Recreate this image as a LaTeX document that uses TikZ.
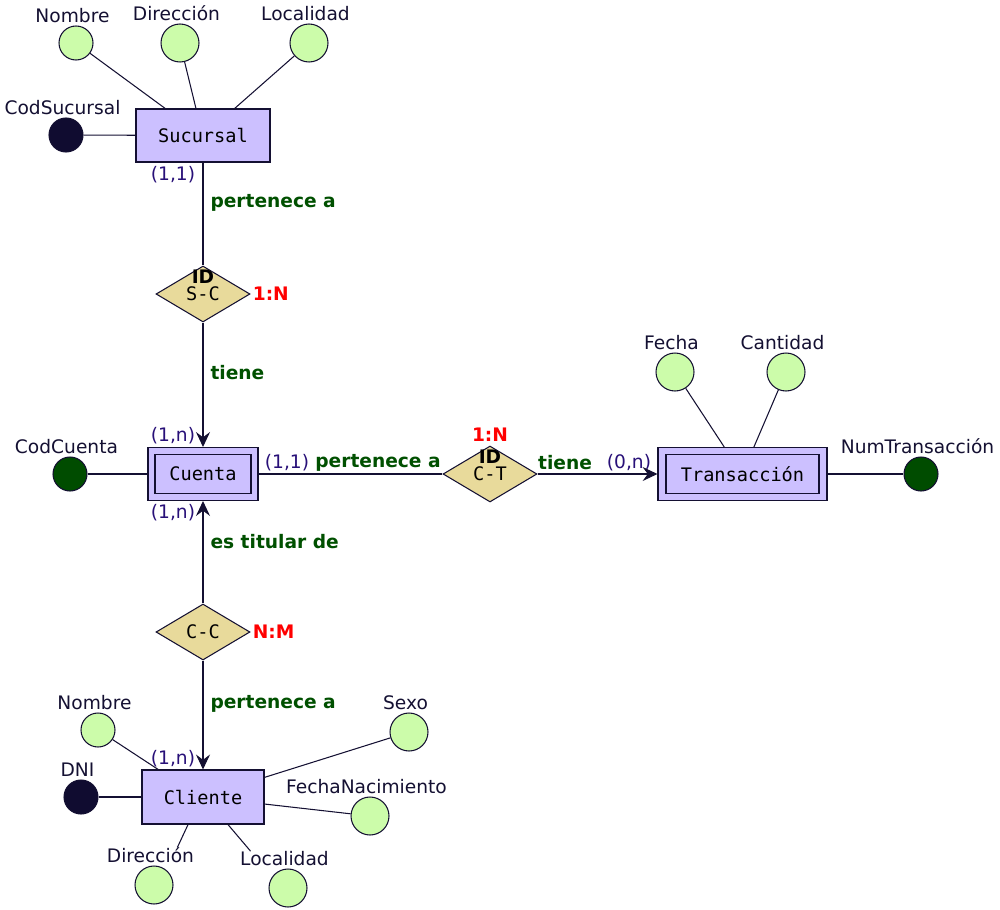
\documentclass[tikz,border=0pt]{standalone}
\usepackage{fontspec}
\setmainfont{DejaVu Sans}
\setmonofont{DejaVu Sans Mono}
\usepackage{tikz}
\usetikzlibrary{positioning,shapes.geometric,arrows.meta}
\definecolor{edgec}{RGB}{20,16,50}
\definecolor{entc}{RGB}{204,192,255}
\definecolor{relc}{RGB}{232,218,155}
\definecolor{attrc}{RGB}{204,252,170}
\definecolor{keyblk}{RGB}{16,12,48}
\definecolor{keygrn}{RGB}{0,76,0}
\definecolor{cardc}{RGB}{40,16,120}
\definecolor{relname}{RGB}{0,80,0}
\definecolor{ratc}{RGB}{255,0,0}

\begin{document}
\begin{tikzpicture}[x=0.02cm, y=-0.02cm, line width=0.6pt,
  every node/.style={font=\fontsize{10.6}{12}\selectfont, inner sep=0pt},
  ent/.style={draw=edgec, fill=entc, rectangle, font=\fontsize{10.6}{12}\selectfont\ttfamily},
  rel/.style={draw=edgec, fill=relc, diamond, aspect=1.68, minimum width=1.88cm, minimum height=1.12cm, font=\fontsize{10.6}{12}\selectfont\ttfamily},
  attr/.style={draw=edgec, fill=attrc, circle, minimum size=0.76cm},
  sattr/.style={draw=edgec, fill=attrc, circle, minimum size=0.68cm},
  kblk/.style={draw=edgec, fill=keyblk, circle, minimum size=0.68cm},
  kgrn/.style={draw=edgec, fill=keygrn, circle, minimum size=0.68cm},
  lab/.style={text=edgec, anchor=base},
  card/.style={text=cardc},
  rname/.style={text=relname, font=\fontsize{10.6}{12}\selectfont\bfseries},
  ratio/.style={text=ratc, font=\fontsize{10.6}{12}\selectfont\bfseries},
  idlab/.style={font=\fontsize{10.6}{12}\selectfont\bfseries},
  conn/.style={draw=edgec},
  arr/.style={draw=edgec, ->, >={Stealth[length=8.5pt,width=8pt,inset=3pt]}}]
\useasboundingbox (0,0) rectangle (1000,909);

% Sucursal
\node[ent, minimum width=2.68cm, minimum height=1.06cm] (suc) at (203,135.5) {Sucursal};
\node[sattr] (nomS) at (76,43) {};
\node[attr] (dirS) at (180,43) {};
\node[attr] (locS) at (309,43) {};
\node[kblk] (codS) at (66,135) {};
\node[lab] (nomSl) at ([shift={(-2pt,1.5pt)}]nomS.north) {Nombre};
\node[lab] (dirSl) at ([shift={(-2pt,1.5pt)}]dirS.north) {Dirección};
\node[lab] (locSl) at ([shift={(-2pt,1.5pt)}]locS.north) {Localidad};
\node[lab] (codSl) at ([shift={(-2pt,1.5pt)}]codS.north) {CodSucursal};
\draw[conn] (nomS) -- ([xshift=-21.5pt]suc.north);
\draw[conn] (dirS) -- ([xshift=-4pt]suc.north);
\draw[conn] (locS) -- ([xshift=18pt]suc.north);
\draw[conn] (codS) -- (suc);

% S-C
\node[rel] (sc) at (203,294) {S-C};
\node[idlab] (idSC) at ([yshift=9.6pt]sc.center) {ID};
\node[ratio, right=1pt of sc] (ratSC) {1:N};
\draw[conn] (suc) -- (sc);
\node[card] (cardSuc) at (173,175) {(1,1)};
\node[rname, anchor=west] (rnSC1) at (210,203) {pertenece a};
\node[rname, anchor=west] (rnSC2) at (210,373) {tiene};

% Cuenta
\node[ent, minimum width=2.2cm, minimum height=1.06cm] (cue) at (203,474) {};
\node[ent, minimum width=1.92cm, minimum height=0.78cm] (cuein) at (cue) {Cuenta};
\node[kgrn] (codC) at (70,474) {};
\node[lab] (codCl) at ([shift={(-2pt,1.5pt)}]codC.north) {CodCuenta};
\draw[conn] (codC) -- (cue);
\draw[arr] (sc) -- (cue);
\node[card] (cardC1) at (173,436) {(1,n)};
\node[card] (cardC2) at (173,513) {(1,n)};
\node[card] (cardC3) at (287,463) {(1,1)};

% C-T
\node[rel] (ct) at (490,474) {C-T};
\node[idlab] (idCT) at ([yshift=9.6pt]ct.center) {ID};
\node[ratio, above=2pt of ct] (ratCT) {1:N};
\draw[conn] (cue) -- (ct);
\node[rname] (rnCT1) at (378,463) {pertenece a};
\node[rname] (rnCT2) at (565,463) {tiene};
\node[card] (cardT) at (629,463) {(0,n)};

% Transaccion
\node[ent, minimum width=3.38cm, minimum height=1.06cm] (tra) at (742.5,474) {};
\node[ent, minimum width=3.06cm, minimum height=0.78cm] (train) at (tra) {Transacción};
\draw[arr] (ct) -- (tra);
\node[attr] (fecT) at (675,372) {};
\node[attr] (canT) at (786,372) {};
\node[kgrn] (numT) at (921,474) {};
\node[lab] (fecTl) at ([shift={(-2pt,1.5pt)}]fecT.north) {Fecha};
\node[lab] (canTl) at ([shift={(-2pt,1.5pt)}]canT.north) {Cantidad};
\node[lab] (numTl) at ([shift={(-2pt,1.5pt)}]numT.north) {NumTransacción};
\draw[conn] (fecT) -- ([xshift=-10.4pt]tra.north);
\draw[conn] (canT) -- ([xshift=6.5pt]tra.north);
\draw[conn] (tra) -- (numT);

% C-C
\node[rel] (cc) at (203,632) {C-C};
\node[ratio, right=1pt of cc] (ratCC) {N:M};
\draw[arr] (cc) -- (cue);
\node[rname, anchor=west] (rnCC1) at (210,542) {es titular de};
\node[rname, anchor=west] (rnCC2) at (210,704) {pertenece a};

% Cliente
\node[ent, minimum width=2.44cm, minimum height=1.08cm] (cli) at (203,797) {Cliente};
\draw[arr] (cc) -- (cli);
\node[card] (cardCl) at (173,759) {(1,n)};
\node[sattr] (nomC) at (98,730) {};
\node[kblk] (dniC) at (81,797) {};
\node[attr] (sexC) at (409,732) {};
\node[attr] (fnaC) at (370,816) {};
\node[attr] (dirC) at (154,885) {};
\node[attr] (locC) at (288,888) {};
\node[lab] (nomCl) at ([shift={(-2pt,1.5pt)}]nomC.north) {Nombre};
\node[lab] (dniCl) at ([shift={(-2pt,1.5pt)}]dniC.north) {DNI};
\node[lab] (sexCl) at ([shift={(-2pt,1.5pt)}]sexC.north) {Sexo};
\node[lab] (fnaCl) at ([shift={(-2pt,1.5pt)}]fnaC.north) {FechaNacimiento};
\node[lab] (dirCl) at ([shift={(-2pt,1.5pt)}]dirC.north) {Dirección};
\node[lab] (locCl) at ([shift={(-2pt,1.5pt)}]locC.north) {Localidad};
\draw[conn] (nomC) -- ([xshift=-25.5pt]cli.north);
\draw[conn] (dniC) -- (cli);
\draw[conn] (sexC) -- ([yshift=-4.5pt]cli.north east);
\draw[conn] (fnaC) -- ([yshift=-4pt]cli.east);
\draw[conn] ([xshift=-8.5pt]cli.south) -- ([xshift=15.3pt]dirCl.north);
\draw[conn] ([xshift=14.2pt]cli.south) -- ([xshift=-19.3pt]locCl.north);
\end{tikzpicture}
\end{document}
